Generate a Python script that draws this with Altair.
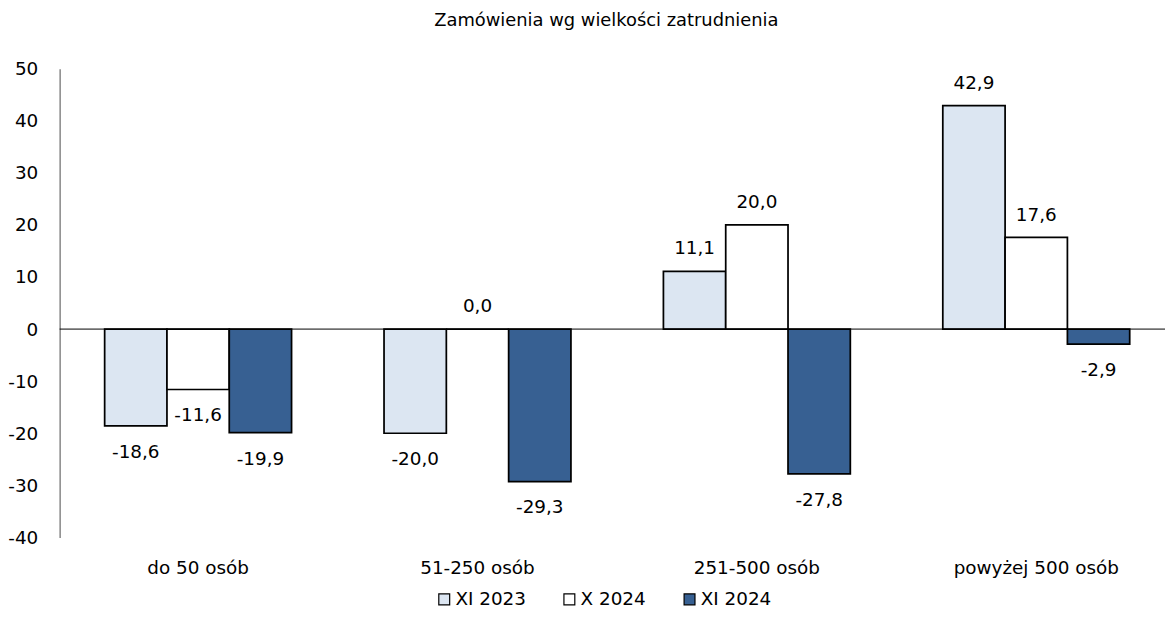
import altair as alt
import pandas as pd

categories = ["do 50 osób", "51-250 osób", "251-500 osób", "powyżej 500 osób"]
series = ["XI 2023", "X 2024", "XI 2024"]
values_xi2023 = [-18.6, -20.0, 11.1, 42.9]
values_x2024 = [-11.6, 0.0, 20.0, 17.6]
values_xi2024 = [-19.9, -29.3, -27.8, -2.9]
colors = ["#dce6f2", "#ffffff", "#376092"]
y_ticks = [-40, -30, -20, -10, 0, 10, 20, 30, 40, 50]

rows = []
for s, vals in zip(series, [values_xi2023, values_x2024, values_xi2024]):
    for c, v in zip(categories, vals):
        rows.append({"kategoria": c, "seria": s, "wartosc": v})
df = pd.DataFrame(rows)

FONT = "DejaVu Sans"
FS = 18.5

x = alt.X("kategoria:N", sort=categories, title=None,
          scale=alt.Scale(paddingInner=0.331, paddingOuter=0.1295, align=0.622),
          axis=alt.Axis(domain=False, ticks=False, labelPadding=21, labelAngle=0,
                        labelFontSize=FS, labelFont=FONT, labelColor="#000000"))
xo = alt.XOffset("seria:N", sort=series, scale=alt.Scale(paddingInner=0, paddingOuter=0))
y = alt.Y("wartosc:Q", title=None,
          scale=alt.Scale(domain=[-40, 50], nice=False, zero=False),
          axis=alt.Axis(values=y_ticks, grid=False, ticks=False, labelPadding=22,
                        labelExpr="replace(datum.label, '\u2212', '-')",
                        domainColor="#868686", domainWidth=1.5,
                        labelFontSize=FS, labelFont=FONT, labelColor="#000000"))

base = alt.Chart(df)

bars = base.mark_bar(stroke="#000000", strokeWidth=1.75).encode(
    x=x, xOffset=xo, y=y, y2=alt.datum(0),
    color=alt.Color("seria:N", sort=series,
                    scale=alt.Scale(domain=series, range=colors),
                    legend=alt.Legend(title=None, orient="none", direction="horizontal",
                                      legendX=378, legendY=525,
                                      symbolType="square", symbolSize=120,
                                      symbolStrokeColor="#000000", symbolStrokeWidth=1.2,
                                      labelFontSize=FS, labelFont=FONT, labelColor="#000000",
                                      labelOffset=2, columnPadding=34)),
)

lab = base.transform_calculate(
    lbl="replace(replace(format(datum.wartosc, '.1f'), '.', ','), '\u2212', '-')"
)
pos_text = lab.transform_filter("datum.wartosc >= 0").mark_text(
    dy=-23, baseline="middle", fontSize=FS, font=FONT, color="#000000"
).encode(x=x, xOffset=xo, y=y, text="lbl:N")
neg_text = lab.transform_filter("datum.wartosc < 0").mark_text(
    dy=26, baseline="middle", fontSize=FS, font=FONT, color="#000000"
).encode(x=x, xOffset=xo, y=y, text="lbl:N")

zero = alt.Chart(pd.DataFrame({"z": [0]})).mark_rule(color="#000000", strokeWidth=1).encode(
    y=alt.Y("z:Q"), x=alt.value(0), x2=alt.value(1113),
)

chart = alt.layer(bars, zero, pos_text, neg_text).properties(
    width=1105, height=472,
    title=alt.TitleParams("Zamówienia wg wielkości zatrudnienia", fontSize=18, font=FONT,
                          fontWeight="normal", color="#000000", anchor="middle",
                          offset=30, dx=-2),
    autosize=alt.AutoSizeParams(type="none"),
    padding={"left": 52, "top": 59, "right": 8, "bottom": 70},
).configure_view(stroke=None)

chart.save("out.html", embed_options={"renderer": "svg", "actions": False})
